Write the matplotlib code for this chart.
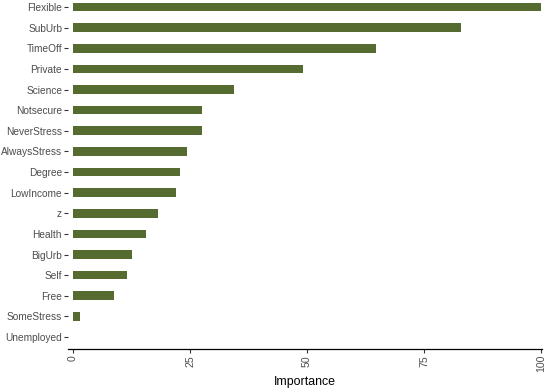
import matplotlib
matplotlib.use("Agg")
import matplotlib.pyplot as plt

features = ["Flexible", "SubUrb", "TimeOff", "Private", "Science", "Notsecure",
            "NeverStress", "AlwaysStress", "Degree", "LowIncome", "z", "Health",
            "BigUrb", "Self", "Free", "SomeStress", "Unemployed"]
importance = [100, 83.0, 64.7, 49.2, 34.3, 27.6, 27.5, 24.4, 22.8, 22.1, 18.1,
              15.6, 12.6, 11.5, 8.8, 1.5, 0.1]
x_ticks = [0, 25, 50, 75, 100]
x_label = "Importance"

plt.rcParams['font.family'] = ['Liberation Sans', 'DejaVu Sans']

fig = plt.figure(figsize=(5.5, 3.9), dpi=100)
ax = fig.add_axes([68/550, 41/390, 474/550, 349/390])

n = len(features)
ypos = [n - 1 - i for i in range(n)]
ax.barh(ypos, importance, height=0.42, color="#556B2F", edgecolor="none")

ax.set_xlim(-1.07, 100.21)
ax.set_ylim(-0.58, n - 1 + 0.34)
ax.set_yticks(ypos)
ax.set_yticklabels(features)
ax.set_xticks(x_ticks)
ax.set_xticklabels([str(t) for t in x_ticks], rotation=90)

for s in ["top", "right", "left"]:
    ax.spines[s].set_visible(False)
ax.spines["bottom"].set_linewidth(0.9)
ax.spines["bottom"].set_color("black")

ax.tick_params(axis="both", length=2.75, width=0.8, color="#333333",
               labelcolor="#4D4D4D", pad=1.5)
ax.tick_params(axis="y", labelsize=7.3)
ax.tick_params(axis="x", labelsize=7.6)
ax.set_xlabel(x_label, fontsize=8.9, color="black", labelpad=2.5)

fig.savefig("out.png", dpi=100)
